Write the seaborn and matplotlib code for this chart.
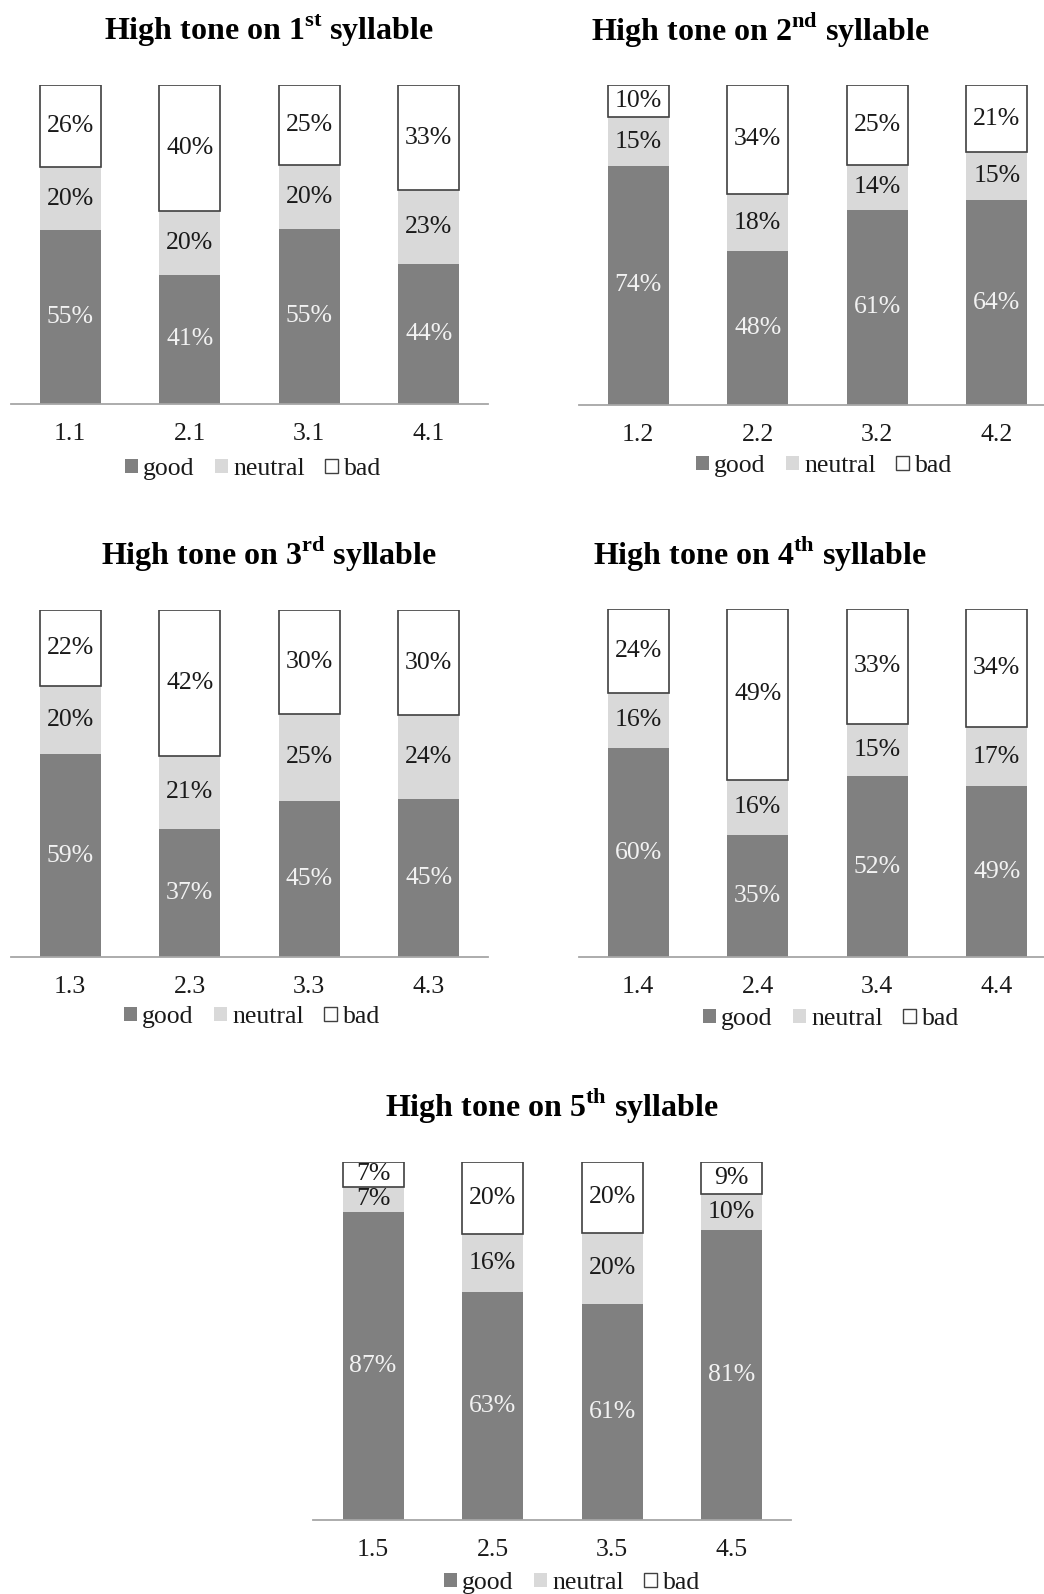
import numpy as np
import pandas as pd
import matplotlib
matplotlib.use("Agg")
import matplotlib.pyplot as plt
import seaborn as sns
from matplotlib.patches import Patch

sns.set_theme(style="white")
plt.rcParams['font.family'] = ['Liberation Serif', 'DejaVu Serif']
plt.rcParams['mathtext.fontset'] = 'custom'
plt.rcParams['mathtext.rm'] = 'Liberation Serif'
plt.rcParams['mathtext.bf'] = 'Liberation Serif:bold'

# ---------------- data ----------------
series_names = ["good", "neutral", "bad"]
ordinals = ["st", "nd", "rd", "th", "th"]

cats_1 = ["1.1", "2.1", "3.1", "4.1"]
good_1 = [55, 41, 55, 44]
neutral_1 = [20, 20, 20, 23]
bad_1 = [26, 40, 25, 33]

cats_2 = ["1.2", "2.2", "3.2", "4.2"]
good_2 = [74, 48, 61, 64]
neutral_2 = [15, 18, 14, 15]
bad_2 = [10, 34, 25, 21]

cats_3 = ["1.3", "2.3", "3.3", "4.3"]
good_3 = [59, 37, 45, 45]
neutral_3 = [20, 21, 25, 24]
bad_3 = [22, 42, 30, 30]

cats_4 = ["1.4", "2.4", "3.4", "4.4"]
good_4 = [60, 35, 52, 49]
neutral_4 = [16, 16, 15, 17]
bad_4 = [24, 49, 33, 34]

cats_5 = ["1.5", "2.5", "3.5", "4.5"]
good_5 = [87, 63, 61, 81]
neutral_5 = [7, 16, 20, 10]
bad_5 = [7, 20, 20, 9]

panels = [
    (cats_1, good_1, neutral_1, bad_1),
    (cats_2, good_2, neutral_2, bad_2),
    (cats_3, good_3, neutral_3, bad_3),
    (cats_4, good_4, neutral_4, bad_4),
    (cats_5, good_5, neutral_5, bad_5),
]

# ---------------- style / layout ----------------
W, H = 1044, 1594
GOOD = "#808080"
NEUTRAL = "#d9d9d9"
BAD = "#ffffff"
EDGE = "#404040"
TXT = "#1a1a1a"
FS = 18.5

# (left px, top px, bottom px) of each plot area
rects = [(10.5, 85, 404), (578.5, 85, 405), (10.5, 610, 957),
         (578.5, 609, 957), (313.3, 1162, 1520)]
AXW = 478
titles_xy = [(269, 40), (760, 40), (269, 564), (760, 564), (552, 1116)]
legend_xy = [(253, 469), (824, 466), (252, 1017), (831, 1019), (572, 1583)]

fig = plt.figure(figsize=(W / 100, H / 100), dpi=100)

for i, (cats, good, neutral, bad) in enumerate(panels):
    l, t, b = rects[i]
    ax = fig.add_axes([l / W, 1 - b / H, AXW / W, (b - t) / H])
    df = pd.DataFrame({"cat": cats, "good": good, "neutral": neutral, "bad": bad})
    tot = df[series_names].sum(axis=1)
    g = (df["good"] / tot).values
    n = (df["neutral"] / tot).values
    bd = (df["bad"] / tot).values

    sns.barplot(x=cats, y=g, order=cats, color=GOOD, saturation=1, width=0.51,
                errorbar=None, linewidth=0, ax=ax)
    sns.barplot(x=cats, y=n, order=cats, color=NEUTRAL, saturation=1, width=0.51,
                errorbar=None, linewidth=0, bottom=g, ax=ax)
    sns.barplot(x=cats, y=bd, order=cats, color=BAD, saturation=1, width=0.51,
                errorbar=None, linewidth=1.2, edgecolor=EDGE, bottom=g + n, ax=ax)

    for cont, vals, col in zip(ax.containers, (good, neutral, bad), ("#f2f2f2", TXT, TXT)):
        ax.bar_label(cont, labels=[f"{v}%" for v in vals], label_type="center",
                     color=col, fontsize=FS)

    ax.set_xlim(-0.5, 3.5)
    ax.set_ylim(0, 1)
    ax.set_xlabel("")
    ax.set_ylabel("")
    ax.set_yticks([])
    for s in ["top", "left", "right"]:
        ax.spines[s].set_visible(False)
    ax.spines["bottom"].set_color("#a6a6a6")
    ax.spines["bottom"].set_linewidth(1.3)
    ax.tick_params(axis="x", length=0, pad=14, labelsize=FS, labelcolor=TXT)
    ax.patch.set_alpha(0)

    tx, ty = titles_xy[i]
    fig.text(tx / W, 1 - ty / H,
             "High tone on %d$^{\\mathbf{%s}}$ syllable" % (i + 1, ordinals[i]),
             ha="center", va="baseline", fontsize=23, fontweight="bold", color="black")

    handles = [Patch(facecolor=GOOD, edgecolor="none"),
               Patch(facecolor=NEUTRAL, edgecolor="none"),
               Patch(facecolor=BAD, edgecolor=EDGE, linewidth=1.0)]
    lx, ly = legend_xy[i]
    fig.legend(handles, series_names, loc="center", bbox_to_anchor=(lx / W, 1 - ly / H),
               ncol=3, frameon=False, fontsize=FS, handlelength=0.5, handleheight=0.5,
               handletextpad=0.2, columnspacing=0.8, labelcolor=TXT, borderpad=0,
               borderaxespad=0)

fig.savefig("out.png", dpi=100)
